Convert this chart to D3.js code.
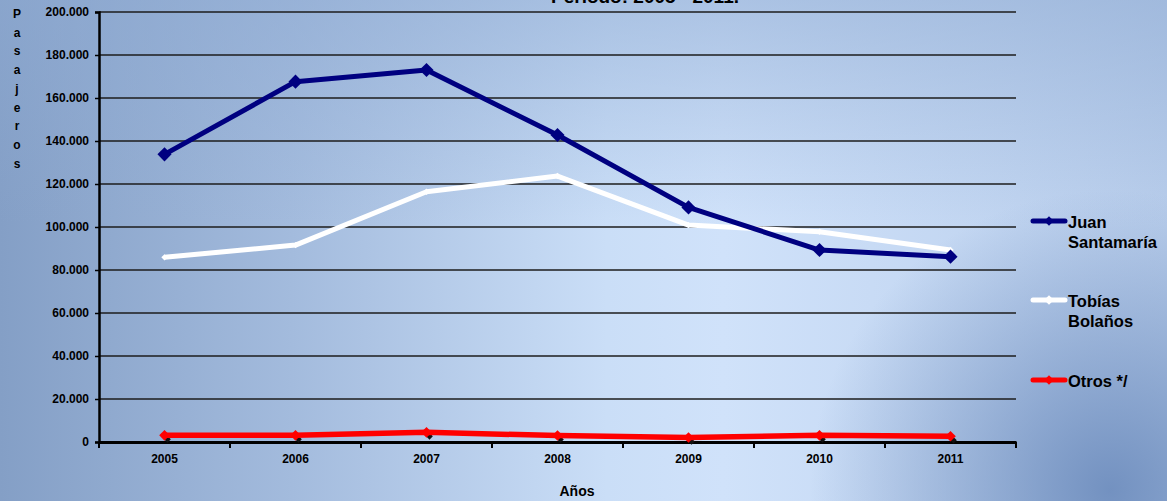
<!DOCTYPE html>
<html>

<head>
  <meta http-equiv="Content-Type" content="text/html;charset=utf-8">
  <title>Pasajeros 2005 - 2011</title>
  <script src="https://d3js.org/d3.v7.min.js"></script>
  <style>
    html,
    body {
      margin: 0;
      padding: 0;
      height: 100%;
      width: 100%;
      overflow: hidden;
    }

    text {
      font-family: "Liberation Sans", Arial, sans-serif;
      font-weight: bold;
      fill: #000;
    }
  </style>
</head>

<body>

  <script type="text/javascript">

    // data
    var years = ["2005", "2006", "2007", "2008", "2009", "2010", "2011"];
    var juanSantamaria = [133800, 167600, 173000, 142800, 109100, 89300, 86200];
    var tobiasBolanos = [85900, 91600, 116400, 123700, 100900, 97800, 89300];
    var otros = [3100, 3100, 4500, 3000, 2100, 3100, 2700];
    var yTicks = [0, 20000, 40000, 60000, 80000, 100000, 120000, 140000, 160000, 180000, 200000];

    var series = [
      { name: ["Juan", "Santamaría"], values: juanSantamaria, color: "#000080", width: 5, marker: 10, legendY: 221 },
      { name: ["Tobías", "Bolaños"], values: tobiasBolanos, color: "#ffffff", width: 5, marker: 4.5, legendY: 300 },
      { name: ["Otros */"], values: otros, color: "#ff0000", width: 5.5, marker: 7.5, legendY: 380 }
    ];

    var W = 1167, H = 501;
    var plotLeft = 99, plotRight = 1016, plotTop = 12, plotBottom = 442;

    var es = d3.formatLocale({ decimal: ",", thousands: ".", grouping: [3], currency: ["", ""] });
    var fmt = es.format(",.0f");

    var svg = d3.select("body").append("svg")
      .attr("width", W)
      .attr("height", H);

    // background
    var defs = svg.append("defs");
    var g1 = defs.append("linearGradient").attr("id", "bgH").attr("x1", 0).attr("x2", 1).attr("y1", 0).attr("y2", 0);
    g1.append("stop").attr("offset", "0%").attr("stop-color", "#849fc6");
    g1.append("stop").attr("offset", "25%").attr("stop-color", "#a3bbdd");
    g1.append("stop").attr("offset", "52%").attr("stop-color", "#cadef7");
    g1.append("stop").attr("offset", "62%").attr("stop-color", "#d0e2fa");
    g1.append("stop").attr("offset", "100%").attr("stop-color", "#b8cdeb");

    var g2 = defs.append("linearGradient").attr("id", "bgV").attr("x1", 0).attr("x2", 0).attr("y1", 0).attr("y2", 1);
    g2.append("stop").attr("offset", "0%").attr("stop-color", "#8eaad2").attr("stop-opacity", 0.55);
    g2.append("stop").attr("offset", "45%").attr("stop-color", "#8eaad2").attr("stop-opacity", 0);

    var g3 = defs.append("radialGradient").attr("id", "bgR")
      .attr("gradientUnits", "userSpaceOnUse")
      .attr("cx", 1110).attr("cy", 490).attr("r", 300);
    g3.append("stop").attr("offset", "0%").attr("stop-color", "#6f8ebe").attr("stop-opacity", 0.95);
    g3.append("stop").attr("offset", "100%").attr("stop-color", "#6f8ebe").attr("stop-opacity", 0);

    svg.append("rect").attr("width", W).attr("height", H).attr("fill", "url(#bgH)");
    svg.append("rect").attr("width", W).attr("height", H).attr("fill", "url(#bgV)");
    svg.append("rect").attr("width", W).attr("height", H).attr("fill", "url(#bgR)");

    var x = d3.scaleBand()
      .domain(years)
      .range([plotLeft, plotRight]);

    var y = d3.scaleLinear()
      .domain([0, 200000])
      .range([plotBottom, plotTop]);

    function cx(d, i) { return x(years[i]) + x.bandwidth() / 2; }

    // grid lines
    svg.append("g")
      .selectAll("line")
      .data(yTicks.filter(function (d) { return d > 0; }))
      .enter().append("line")
      .attr("x1", plotLeft)
      .attr("x2", plotRight)
      .attr("y1", function (d) { return y(d); })
      .attr("y2", function (d) { return y(d); })
      .attr("stroke", "#1c1c1c")
      .attr("stroke-width", 1.4);

    // y axis
    var yAxis = svg.append("g")
      .attr("transform", "translate(" + plotLeft + ",0)")
      .call(d3.axisLeft(y).tickValues(yTicks).tickFormat(fmt).tickSize(4).tickPadding(6));
    yAxis.select(".domain").attr("stroke", "#000").attr("stroke-width", 2.5);
    yAxis.selectAll(".tick line").attr("stroke", "#000").attr("stroke-width", 1.5);
    yAxis.selectAll("text").style("font-size", "12px").style("font-family", "'Liberation Sans', Arial, sans-serif").style("font-weight", "bold").attr("fill", "#000");

    // x axis
    var xAxis = svg.append("g")
      .attr("transform", "translate(0," + plotBottom + ")")
      .call(d3.axisBottom(x).tickSize(0).tickPadding(12));
    xAxis.select(".domain").attr("stroke", "#000").attr("stroke-width", 3);
    xAxis.selectAll("text").style("font-size", "12px").style("font-family", "'Liberation Sans', Arial, sans-serif").style("font-weight", "bold").attr("fill", "#000");

    // tick marks between categories
    var bounds = d3.range(years.length + 1).map(function (i) { return plotLeft + i * x.step(); });
    svg.append("g")
      .selectAll("line")
      .data(bounds)
      .enter().append("line")
      .attr("x1", function (d) { return d; })
      .attr("x2", function (d) { return d; })
      .attr("y1", plotBottom)
      .attr("y2", plotBottom + 6)
      .attr("stroke", "#000")
      .attr("stroke-width", 2);

    var line = d3.line()
      .x(function (d, i) { return cx(d, i); })
      .y(function (d) { return y(d); });

    // square turned 45 degrees gives the Excel style diamond
    var square = d3.symbol().type(d3.symbolSquare);

    // series, drawn back to front
    series.slice().reverse().forEach(function (s) {
      var g = svg.append("g");

      if (s.color === "#ff0000") {
        // small dark shadow diamonds under the red markers
        g.selectAll(".shadow")
          .data(s.values)
          .enter().append("path")
          .attr("d", square.size(22))
          .attr("fill", "#111")
          .attr("transform", function (d, i) { return "translate(" + (cx(d, i) + 3) + "," + (y(d) + 4) + ") rotate(45)"; });
      }

      g.append("path")
        .attr("d", line(s.values))
        .attr("fill", "none")
        .attr("stroke", s.color)
        .attr("stroke-width", s.width)
        .attr("stroke-linejoin", "round");

      g.selectAll(".mk")
        .data(s.values)
        .enter().append("path")
        .attr("d", square.size(s.marker * s.marker))
        .attr("fill", s.color)
        .attr("transform", function (d, i) { return "translate(" + cx(d, i) + "," + y(d) + ") rotate(45)"; });
    });

    // legend
    var legend = svg.append("g");
    series.forEach(function (s) {
      legend.append("line")
        .attr("x1", 1033)
        .attr("x2", 1065)
        .attr("y1", s.legendY)
        .attr("y2", s.legendY)
        .attr("stroke", s.color)
        .attr("stroke-width", 5)
        .attr("stroke-linecap", "round");
      legend.append("path")
        .attr("d", square.size(45))
        .attr("fill", s.color)
        .attr("transform", "translate(1049," + s.legendY + ") rotate(45)");
      s.name.forEach(function (t, k) {
        legend.append("text")
          .attr("x", 1068)
          .attr("y", s.legendY + 7 + k * 20)
          .style("font-size", "16.5px")
          .text(t);
      });
    });

    // title (cut off at top edge)
    svg.append("text")
      .attr("x", 645)
      .attr("y", 3)
      .attr("text-anchor", "middle")
      .style("font-size", "19px")
      .text("Período: 2005 - 2011.");

    // axis titles
    svg.append("text")
      .attr("x", 577)
      .attr("y", 496)
      .attr("text-anchor", "middle")
      .style("font-size", "14px")
      .text("Años");

    var yTitle = "Pasajeros".split("");
    svg.append("g")
      .selectAll("text")
      .data(yTitle)
      .enter().append("text")
      .attr("x", 17)
      .attr("y", function (d, i) { return 18 + i * 18.7; })
      .attr("text-anchor", "middle")
      .style("font-size", "12px")
      .text(function (d) { return d; });

  </script>
</body>

</html>
